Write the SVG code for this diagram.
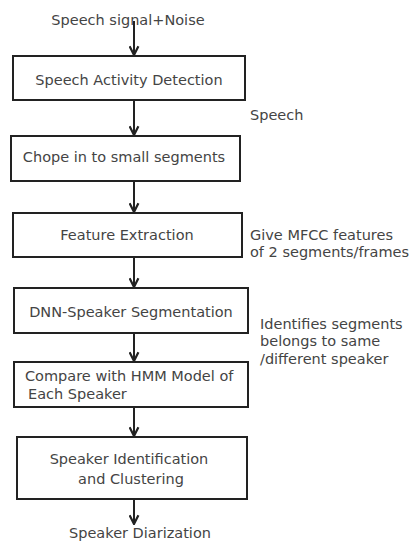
<svg xmlns="http://www.w3.org/2000/svg" width="411" height="541" viewBox="0 0 411 541">
  <defs>
    <marker id="arrow" viewBox="0 0 10 10" refX="9" refY="5" markerWidth="11" markerHeight="11" markerUnits="userSpaceOnUse" orient="auto">
      <path d="M1,1 L9,5 L1,9" fill="none" stroke="#222" stroke-width="2"/>
    </marker>
    <style>
      .box { fill: #fff; stroke: #222; stroke-width: 2; }
      .lbl { font-family: "DejaVu Sans", sans-serif; font-size: 14.5px; fill: #444; }
      .mid { text-anchor: middle; }
      .edge { stroke: #222; stroke-width: 2; fill: none; marker-end: url(#arrow); }
    </style>
  </defs>
  <rect width="411" height="541" fill="#fff"/>

  <g id="input">
    <text class="lbl mid" x="128" y="25">Speech signal+Noise</text>
  </g>

  <g id="connectors">
    <line class="edge" x1="134" y1="21" x2="134" y2="55"/>
    <line class="edge" x1="134" y1="101" x2="134" y2="135"/>
    <line class="edge" x1="134" y1="182" x2="134" y2="212"/>
    <line class="edge" x1="134" y1="258" x2="134" y2="287"/>
    <line class="edge" x1="134" y1="334" x2="134" y2="361"/>
    <line class="edge" x1="134" y1="408" x2="134" y2="436"/>
    <line class="edge" x1="134" y1="500" x2="134" y2="524"/>
  </g>

  <g id="sad">
    <rect class="box" x="13" y="56" width="232" height="44"/>
    <text class="lbl mid" x="129" y="85">Speech Activity Detection</text>
  </g>

  <g id="chop">
    <rect class="box" x="11" y="136" width="229" height="45"/>
    <text class="lbl mid" x="124" y="162">Chope in to small segments</text>
  </g>

  <g id="features">
    <rect class="box" x="13" y="213" width="229" height="44"/>
    <text class="lbl mid" x="127" y="240">Feature Extraction</text>
  </g>

  <g id="dnn">
    <rect class="box" x="14" y="288" width="234" height="45"/>
    <text class="lbl mid" x="131" y="317">DNN-Speaker Segmentation</text>
  </g>

  <g id="hmm">
    <rect class="box" x="14" y="362" width="234" height="45"/>
    <text class="lbl" x="25" y="381">Compare with HMM Model of</text>
    <text class="lbl" x="28" y="399">Each Speaker</text>
  </g>

  <g id="cluster">
    <rect class="box" x="17" y="437" width="230" height="62"/>
    <text class="lbl mid" x="129" y="464">Speaker Identification</text>
    <text class="lbl mid" x="131" y="484">and Clustering</text>
  </g>

  <g id="output">
    <text class="lbl mid" x="140" y="538">Speaker Diarization</text>
  </g>

  <g id="notes">
    <text class="lbl" x="250" y="120">Speech</text>
    <text class="lbl" x="250" y="240">Give MFCC features</text>
    <text class="lbl" x="250" y="257">of 2 segments/frames</text>
    <text class="lbl" x="260" y="329">Identifies segments</text>
    <text class="lbl" x="260" y="346">belongs to same</text>
    <text class="lbl" x="260" y="364">/different speaker</text>
  </g>
</svg>
